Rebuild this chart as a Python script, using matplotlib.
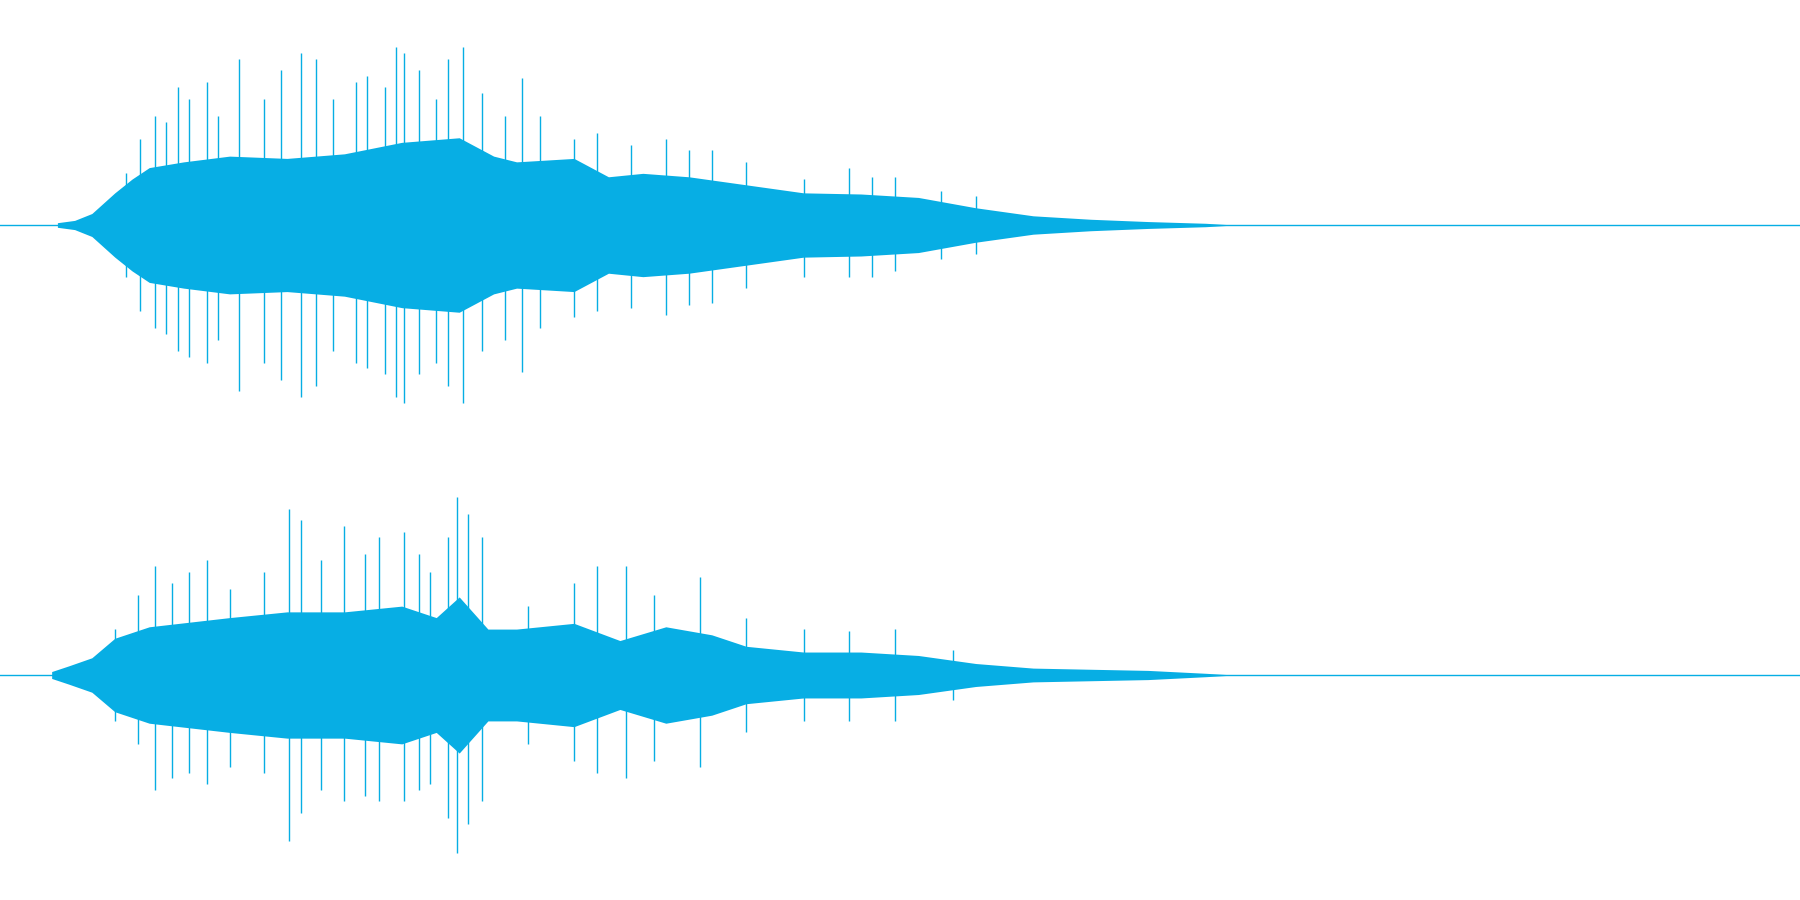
import matplotlib
matplotlib.use("Agg")
import matplotlib.pyplot as plt
import numpy as np

color = "#07aee4"
# channel 1 envelope (time index, amplitude)
t1 = [50, 65, 80, 100, 115, 130, 160, 200, 250, 300, 350, 400, 430, 450, 500, 530, 560, 600, 650, 700, 750, 800, 850, 900, 950, 1000, 1050, 1075]
a1 = [2, 4, 10, 28, 40, 50, 55, 60, 58, 62, 72, 76, 60, 55, 58, 42, 45, 42, 35, 28, 27, 24, 15, 8, 5, 3, 1.5, 0]
p1x = [110, 122, 135, 145, 155, 165, 180, 190, 208, 230, 245, 262, 275, 290, 310, 320, 335, 345, 352, 365, 380, 390, 403, 420, 440, 455, 470, 500, 520, 550, 580, 600, 620, 650, 700, 740, 760, 780, 820, 850]
p1u = [45, 75, 95, 90, 120, 110, 125, 95, 145, 110, 135, 150, 145, 110, 125, 130, 120, 155, 150, 135, 110, 145, 155, 115, 95, 128, 95, 75, 80, 70, 75, 65, 65, 55, 40, 50, 42, 42, 30, 25]
p1l = [45, 75, 90, 95, 110, 115, 120, 100, 145, 120, 135, 150, 140, 110, 120, 125, 130, 150, 155, 130, 120, 140, 155, 110, 100, 128, 90, 80, 75, 72, 78, 70, 68, 55, 45, 45, 45, 40, 30, 25]
# channel 2
t2 = [45, 60, 80, 100, 130, 200, 250, 300, 350, 380, 400, 425, 450, 500, 540, 580, 620, 650, 700, 750, 800, 850, 900, 950, 1000, 1050, 1075]
a2 = [3, 8, 15, 32, 42, 50, 55, 55, 60, 50, 68, 40, 40, 45, 30, 42, 35, 25, 20, 20, 17, 10, 6, 5, 4, 1.5, 0]
p2x = [100, 120, 135, 150, 165, 180, 200, 230, 252, 262, 280, 300, 318, 330, 352, 365, 375, 390, 398, 408, 420, 460, 500, 520, 545, 570, 610, 650, 700, 740, 780, 830]
p2u = [40, 70, 95, 80, 90, 100, 75, 90, 145, 135, 100, 130, 105, 120, 125, 105, 90, 120, 155, 140, 120, 60, 80, 95, 95, 70, 85, 50, 40, 38, 40, 22]
p2l = [40, 60, 100, 90, 85, 95, 80, 85, 145, 120, 100, 110, 105, 110, 110, 100, 95, 125, 155, 130, 110, 60, 75, 85, 90, 75, 80, 50, 40, 40, 40, 22]

fig = plt.figure(figsize=(18, 9), dpi=100)
ax = fig.add_axes([0, 0, 1, 1])
ax.set_xlim(0, 1568)
ax.set_ylim(784, 0)
ax.axis("off")

for c, t, a, px, pu, pl in [(196, t1, a1, p1x, p1u, p1l), (588, t2, a2, p2x, p2u, p2l)]:
    ax.axhline(c, color=color, lw=1)
    t = np.array(t); a = np.array(a)
    ax.fill_between(t, c - a, c + a, color=color, lw=0)
    ax.vlines(px, c - np.array(pu), c + np.array(pl), color=color, lw=1)

fig.savefig("out.png", dpi=100)
